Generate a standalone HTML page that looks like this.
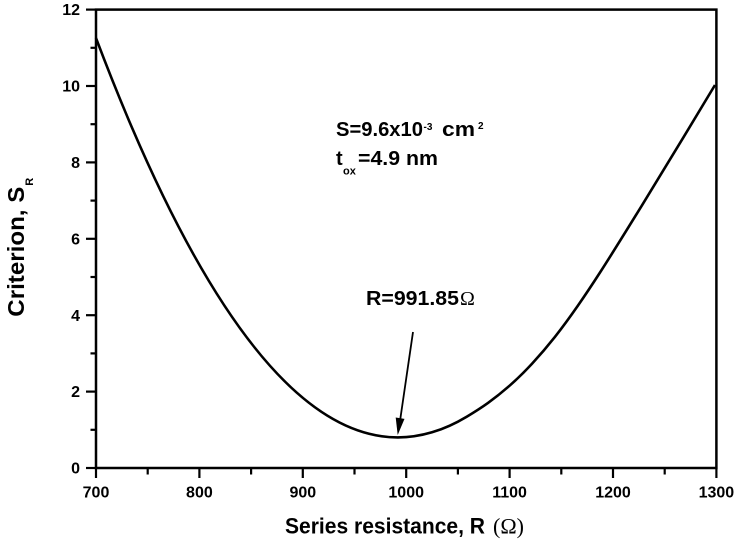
<!DOCTYPE html>
<html>
<head>
<meta charset="utf-8">
<style>
  html, body { margin: 0; padding: 0; background: #ffffff; }
  svg { display: block; }
  .t { font-family: "Liberation Sans", Arial, sans-serif; font-weight: bold; fill: #000; }
  .s { font-family: "Liberation Serif", "DejaVu Serif", serif; font-weight: normal; fill: #000; }
</style>
</head>
<body>
<svg width="737" height="542" viewBox="0 0 737 542" xmlns="http://www.w3.org/2000/svg">
  <rect x="0" y="0" width="737" height="542" fill="#ffffff"/>

  <!-- frame -->
  <rect x="96" y="9.6" width="620.4" height="458.4" fill="none" stroke="#000" stroke-width="2.5"/>

  <!-- y ticks -->
  <g stroke="#000" stroke-width="2.2">
    <line x1="86" y1="468" x2="96" y2="468"/>
    <line x1="86" y1="391.6" x2="96" y2="391.6"/>
    <line x1="86" y1="315.2" x2="96" y2="315.2"/>
    <line x1="86" y1="238.8" x2="96" y2="238.8"/>
    <line x1="86" y1="162.4" x2="96" y2="162.4"/>
    <line x1="86" y1="86" x2="96" y2="86"/>
    <line x1="86" y1="9.6" x2="96" y2="9.6"/>
    <line x1="90.5" y1="429.8" x2="96" y2="429.8"/>
    <line x1="90.5" y1="353.4" x2="96" y2="353.4"/>
    <line x1="90.5" y1="277" x2="96" y2="277"/>
    <line x1="90.5" y1="200.6" x2="96" y2="200.6"/>
    <line x1="90.5" y1="124.2" x2="96" y2="124.2"/>
    <line x1="90.5" y1="47.8" x2="96" y2="47.8"/>
  </g>

  <!-- x ticks -->
  <g stroke="#000" stroke-width="2.2">
    <line x1="96" y1="468" x2="96" y2="478"/>
    <line x1="199.4" y1="468" x2="199.4" y2="478"/>
    <line x1="302.8" y1="468" x2="302.8" y2="478"/>
    <line x1="406.2" y1="468" x2="406.2" y2="478"/>
    <line x1="509.6" y1="468" x2="509.6" y2="478"/>
    <line x1="613" y1="468" x2="613" y2="478"/>
    <line x1="716.4" y1="468" x2="716.4" y2="478"/>
    <line x1="147.7" y1="468" x2="147.7" y2="474.5"/>
    <line x1="251.1" y1="468" x2="251.1" y2="474.5"/>
    <line x1="354.5" y1="468" x2="354.5" y2="474.5"/>
    <line x1="457.9" y1="468" x2="457.9" y2="474.5"/>
    <line x1="561.3" y1="468" x2="561.3" y2="474.5"/>
    <line x1="664.7" y1="468" x2="664.7" y2="474.5"/>
  </g>

  <!-- y tick labels -->
  <g class="t" font-size="16" text-anchor="end">
    <text x="80" y="473.6">0</text>
    <text x="80" y="397.2">2</text>
    <text x="80" y="320.8">4</text>
    <text x="80" y="244.4">6</text>
    <text x="80" y="168">8</text>
    <text x="80" y="91.6">10</text>
    <text x="80" y="15.2">12</text>
  </g>

  <!-- x tick labels -->
  <g class="t" font-size="16" text-anchor="middle">
    <text x="96" y="497.3">700</text>
    <text x="199.4" y="497.3">800</text>
    <text x="302.8" y="497.3">900</text>
    <text x="406.2" y="497.3">1000</text>
    <text x="509.6" y="497.3">1100</text>
    <text x="613" y="497.3">1200</text>
    <text x="716.4" y="497.3">1300</text>
  </g>

  <!-- x axis title -->
  <text class="t" x="285" y="533.3" font-size="22" textLength="200" lengthAdjust="spacingAndGlyphs">Series resistance, R</text>
  <text class="s" x="493" y="533.3" font-size="22" textLength="31" lengthAdjust="spacingAndGlyphs">(Ω)</text>

  <!-- y axis title -->
  <g transform="translate(24,316.7) rotate(-90)">
    <text class="t" x="0" y="0" font-size="23" textLength="130" lengthAdjust="spacingAndGlyphs">Criterion, S</text>
    <text class="t" x="131" y="9" font-size="11">R</text>
  </g>

  <!-- curve -->
  <path d="M96,38.1 Q246.9,437.4 397.8,437.4
           C409.2,437.4 420.6,435.7 432,432.3
           C443.57,428.85 455.13,423.64 466.7,416.7
           C473.8,412.44 480.9,408.01 488,402.9
           C495.33,397.62 502.67,391.75 510,385.3
           C517.33,378.85 524.67,371.62 532,363.7
           C539.67,355.42 547.33,346.54 555,336.8
           C562.67,327.06 570.33,316.54 578,305.5
           C585.33,294.94 592.67,283.87 600,272.5
           C613.9,250.95 627.8,228.32 641.7,205.8
           C655.57,183.33 669.43,160.49 683.3,137.6
           C693.87,120.16 704.43,102.65 715,85"
        fill="none" stroke="#000" stroke-width="2.6" stroke-linejoin="round"/>

  <!-- annotation: S and tox -->
  <text class="t" x="336" y="136" font-size="20" textLength="87" lengthAdjust="spacingAndGlyphs">S=9.6x10</text>
  <text class="t" x="423.5" y="130" font-size="10">-3</text>
  <text class="t" x="442" y="136" font-size="20" textLength="33" lengthAdjust="spacingAndGlyphs">cm</text>
  <text class="t" x="478" y="129" font-size="10">2</text>

  <text class="t" x="336" y="165" font-size="20">t</text>
  <text class="t" x="343" y="174.5" font-size="11">ox</text>
  <text class="t" x="358" y="165" font-size="20" textLength="80" lengthAdjust="spacingAndGlyphs">=4.9 nm</text>

  <!-- annotation: R -->
  <text class="t" x="366" y="305" font-size="20" textLength="93" lengthAdjust="spacingAndGlyphs">R=991.85</text>
  <text class="s" x="460" y="305" font-size="20">Ω</text>

  <!-- arrow -->
  <line x1="413" y1="332" x2="400.3" y2="419" stroke="#000" stroke-width="1.8"/>
  <polygon points="397.7,435 404.5,418.9 395.7,417.5" fill="#000"/>
</svg>
</body>
</html>
